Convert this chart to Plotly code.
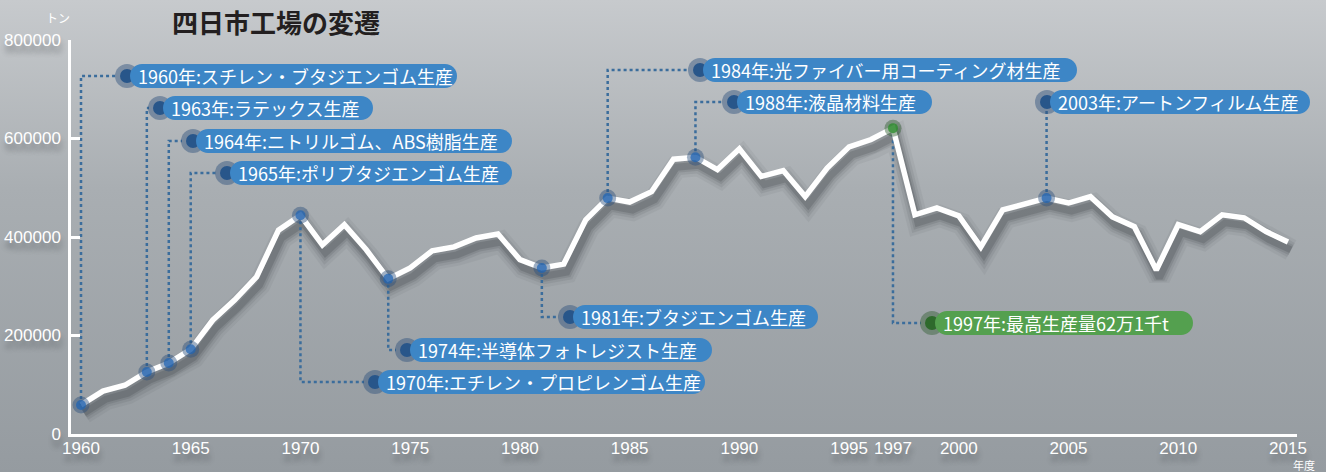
import base64
import plotly.graph_objects as go

# ---- data -------------------------------------------------------------
years = list(range(1960, 2016))
output_t = [
    59000, 87000, 99000, 126000, 144000, 172000, 231000, 272000, 319000, 414000,
    444000, 384000, 425000, 374000, 315000, 337000, 372000, 380000, 398000, 406000,
    354000, 337000, 345000, 435000, 479000, 471000, 492000, 558000, 562000, 537000,
    579000, 523000, 535000, 482000, 540000, 583000, 598000, 621000, 445000, 459000,
    443000, 380000, 455000, 467000, 479000, 469000, 482000, 441000, 421000, 333000,
    425000, 411000, 445000, 439000, 411000, 390000,
]

event_texts = [
    "1960年:スチレン・ブタジエンゴム生産",
    "1963年:ラテックス生産",
    "1964年:ニトリルゴム、ABS樹脂生産",
    "1965年:ポリブタジエンゴム生産",
    "1970年:エチレン・プロピレンゴム生産",
    "1974年:半導体フォトレジスト生産",
    "1981年:ブタジエンゴム生産",
    "1984年:光ファイバー用コーティング材生産",
    "1988年:液晶材料生産",
    "1997年:最高生産量62万1千t",
    "2003年:アートンフィルム生産",
]
# year on the curve that each callout points to
event_points = [1960, 1963, 1964, 1965, 1970, 1974, 1981, 1984, 1988, 1997, 2004]
event_peak = [False] * 9 + [True, False]

x_ticks = [1960, 1965, 1970, 1975, 1980, 1985, 1990, 1995, 1997, 2000, 2005, 2010, 2015]
y_ticks = [0, 200000, 400000, 600000, 800000]

# ---- layout geometry (pixels) ----------------------------------------
FIG_W, FIG_H = 1326, 472
M_L, M_R, M_T, M_B = 71, 29, 40, 38
PLOT_W = FIG_W - M_L - M_R
PLOT_H = FIG_H - M_T - M_B
Y_MAX = 800000
PX_PER_YEAR = 21.945
X0 = 1960 - 10 / PX_PER_YEAR
X1 = X0 + PLOT_W / PX_PER_YEAR


def xd(px):
    return X0 + (px - M_L) / PX_PER_YEAR


def yd(py):
    return (M_T + PLOT_H - py) / PLOT_H * Y_MAX


def xp(px):
    return (px - M_L) / PLOT_W


def yp(py):
    return (M_T + PLOT_H - py) / PLOT_H


def dx(px):
    return px / PX_PER_YEAR


def dy(px):
    return px / PLOT_H * Y_MAX


# callout placement: circle centre x, centre y, right end of the pill (pixels)
callout_pos = [
    (127, 76, 457), (160, 108, 373), (193, 141, 512), (227, 173, 512),
    (375, 382, 705), (407, 350, 712), (570, 317, 818), (700, 70, 1077),
    (734, 102, 932), (932, 323, 1193), (1047, 102, 1310),
]

BLUE = "#3d86c6"
BLUE_DOT = "#28568a"
BLUE_RING = "rgba(45,80,125,0.45)"
GREEN = "#54a04f"
GREEN_DOT = "#2e6a2c"
GREEN_RING = "rgba(50,95,50,0.45)"
LEADER = "#3b6d9c"

fig = go.Figure()

# soft drop shadow under the production curve
for w, op in [(22, 0.05), (16, 0.08), (11, 0.11), (7, 0.16)]:
    fig.add_trace(go.Scatter(
        x=[v + dx(3) for v in years], y=[v - dy(8) for v in output_t],
        mode="lines", line=dict(color="rgba(35,40,45,1)", width=w),
        opacity=op, hoverinfo="skip", showlegend=False, cliponaxis=False,
    ))

# dotted leaders from the curve to each callout
for yr, (cx, cy, _), peak in zip(event_points, callout_pos, event_peak):
    val = output_t[years.index(yr)]
    ly = yd(cy)
    xs = [yr, yr]
    ys = [val, ly]
    end_x = xd(cx - 11)
    if end_x > yr + 0.05:
        xs.append(end_x)
        ys.append(ly)
    fig.add_trace(go.Scatter(
        x=xs, y=ys, mode="lines",
        line=dict(color=LEADER, width=2.5, dash="dot"),
        hoverinfo="skip", showlegend=False, cliponaxis=False,
    ))

# production curve
fig.add_trace(go.Scatter(
    x=years, y=output_t, mode="lines",
    line=dict(color="white", width=5.5),
    hoverinfo="skip", showlegend=False, cliponaxis=False,
))

# markers on the curve
mk_x = event_points
mk_y = [output_t[years.index(y)] for y in event_points]
ring_cols = [GREEN_RING if p else BLUE_RING for p in event_peak]
dot_cols = ["rgba(40,140,40,0.75)" if p else "rgba(30,100,180,0.72)" for p in event_peak]
fig.add_trace(go.Scatter(
    x=mk_x, y=mk_y, mode="markers",
    marker=dict(size=17, color=ring_cols, line=dict(width=0)),
    hoverinfo="skip", showlegend=False, cliponaxis=False,
))
fig.add_trace(go.Scatter(
    x=mk_x, y=mk_y, mode="markers",
    marker=dict(size=10, color=dot_cols, line=dict(width=0)),
    hoverinfo="skip", showlegend=False, cliponaxis=False,
))

# callout circles and pills (paper coordinates, so they may run into the margin)
shapes = []
annotations = []
K = 0.5523
PW, PH = 1 / PLOT_W, 1 / PLOT_H
for text, (cx, cy, xr), peak in zip(event_texts, callout_pos, event_peak):
    ring, dot, fill = (GREEN_RING, GREEN_DOT, GREEN) if peak else (BLUE_RING, BLUE_DOT, BLUE)
    for r, col in [(12, ring), (7, dot)]:
        shapes.append(dict(
            type="circle", xref="paper", yref="paper", layer="above",
            x0=xp(cx - r), x1=xp(cx + r), y0=yp(cy + r), y1=yp(cy - r),
            fillcolor=col, line=dict(width=0),
        ))
    rp = 12
    a, b = xp(cx + 3), xp(xr)
    ra = rp * PW
    yt, ym, yb = yp(cy - rp), yp(cy), yp(cy + rp)
    rb = rp * PH
    path = (
        f"M{a + ra},{yt} L{b - ra},{yt} "
        f"C{b - ra + K * ra},{yt} {b},{ym + K * rb} {b},{ym} "
        f"C{b},{ym - K * rb} {b - ra + K * ra},{yb} {b - ra},{yb} "
        f"L{a + ra},{yb} "
        f"C{a + ra - K * ra},{yb} {a},{ym - K * rb} {a},{ym} "
        f"C{a},{ym + K * rb} {a + ra - K * ra},{yt} {a + ra},{yt} Z"
    )
    shapes.append(dict(
        type="path", path=path, xref="paper", yref="paper", layer="above",
        fillcolor=fill, line=dict(width=0),
    ))
    annotations.append(dict(
        x=xp(cx + 9), y=yp(cy), xref="paper", yref="paper",
        xanchor="left", yanchor="middle", showarrow=False, text=text,
        font=dict(family="Noto Sans CJK JP", size=18, color="white"),
    ))

# title and axis units
annotations.append(dict(
    x=xp(170), y=yp(22), xref="paper", yref="paper", xanchor="left", yanchor="middle",
    showarrow=False, text="四日市工場の変遷",
    font=dict(family="Noto Sans CJK JP", size=26, color="#231f20", weight="bold"),
))
annotations.append(dict(
    x=xp(58), y=yp(18), xref="paper", yref="paper", xanchor="center", yanchor="middle",
    showarrow=False, text="トン",
    font=dict(family="Noto Sans CJK JP", size=12, color="white"),
))
annotations.append(dict(
    x=xp(1304), y=yp(465), xref="paper", yref="paper", xanchor="center", yanchor="middle",
    showarrow=False, text="年度",
    font=dict(family="Noto Sans CJK JP", size=11, color="white"),
))

# vertical gradient backdrop
svg = (
    f'<svg xmlns="http://www.w3.org/2000/svg" width="{FIG_W}" height="{FIG_H}">'
    '<defs><linearGradient id="g" x1="0" y1="0" x2="0" y2="1">'
    '<stop offset="0" stop-color="#c7cacd"/>'
    '<stop offset="0.4" stop-color="#a9aeb2"/>'
    '<stop offset="1" stop-color="#959ba0"/>'
    '</linearGradient></defs>'
    f'<rect width="{FIG_W}" height="{FIG_H}" fill="url(#g)"/></svg>'
)
bg_src = "data:image/svg+xml;base64," + base64.b64encode(svg.encode()).decode()

tick_font = dict(family="Liberation Sans", size=17, color="white",
                 shadow="1px 7px 5px rgba(60,64,68,0.45)")

fig.update_layout(
    width=FIG_W, height=FIG_H,
    margin=dict(l=M_L, r=M_R, t=M_T, b=M_B, pad=0, autoexpand=False),
    paper_bgcolor="#a9aeb2", plot_bgcolor="rgba(0,0,0,0)",
    shapes=shapes, annotations=annotations,
    images=[dict(
        source=bg_src, xref="paper", yref="paper",
        x=-M_L / PLOT_W, y=1 + M_T / PLOT_H,
        sizex=FIG_W / PLOT_W, sizey=FIG_H / PLOT_H,
        xanchor="left", yanchor="top", sizing="stretch", layer="below",
    )],
    xaxis=dict(
        range=[X0, X1], tickvals=x_ticks, ticktext=[str(v) for v in x_ticks],
        showline=True, linecolor="white", linewidth=2.5, ticks="",
        showgrid=False, zeroline=False, tickfont=tick_font,
        ticklabelstandoff=-3, automargin=False,
    ),
    yaxis=dict(
        range=[0, Y_MAX], tickvals=y_ticks, ticktext=[str(v) for v in y_ticks],
        showline=True, linecolor="white", linewidth=2.5,
        ticks="inside", ticklen=9, tickwidth=2.5, tickcolor="white",
        showgrid=False, zeroline=False, tickfont=tick_font,
        ticklabelstandoff=4, automargin=False,
    ),
    showlegend=False,
)

fig.write_html("out.html")
